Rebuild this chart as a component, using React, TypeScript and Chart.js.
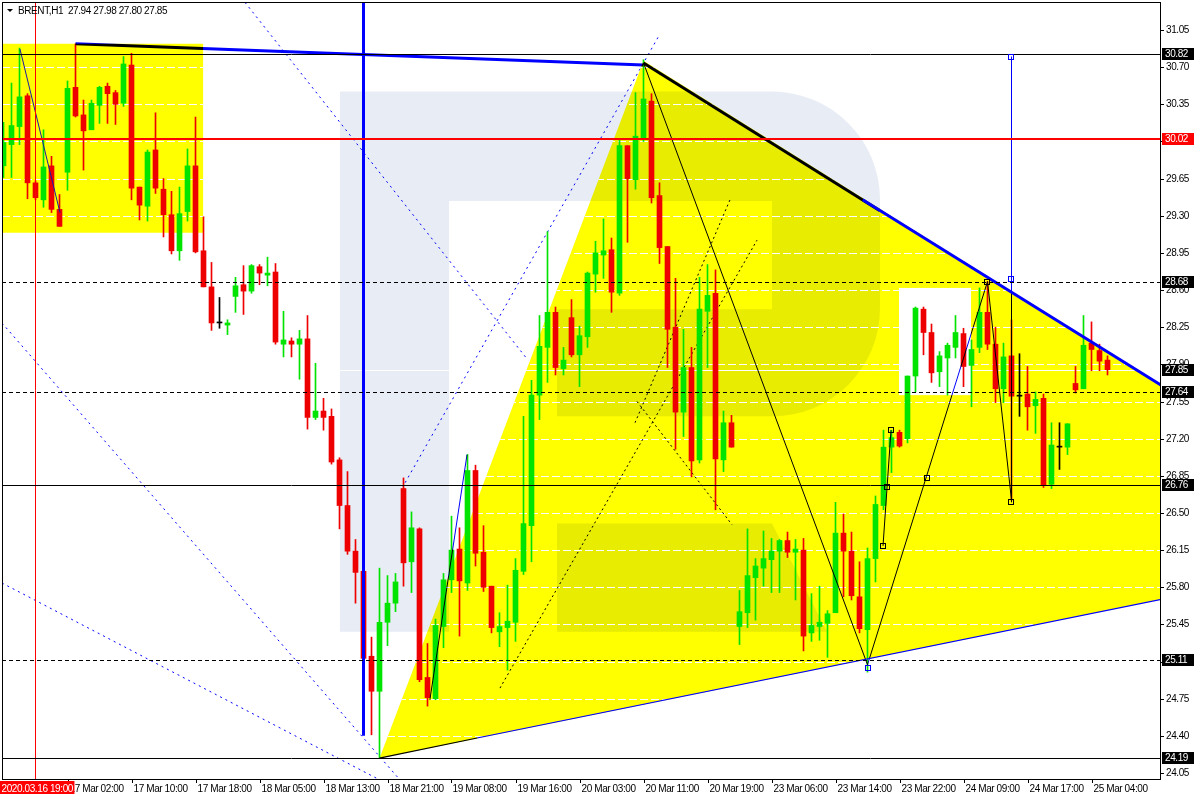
import React, { useEffect, useRef } from "react";
import { Chart, registerables } from "chart.js";

Chart.register(...registerables);

// ---------------- data ----------------
const titleText = "BRENT,H1  27.94 27.98 27.80 27.85";

const opens = [
  29.77, 29.97, 30.14, 30.43, 29.61, 29.45, 29.77, 29.36, 29.71, 30.51,
  30.25, 30.11, 30.34, 30.52, 30.46, 30.36, 30.72, 29.57, 29.39, 29.92,
  29.55, 29.31, 28.97, 29.34, 29.77, 28.97, 28.63, 28.29, 28.27, 28.54,
  28.65, 28.59, 28.82, 28.74, 28.77, 28.09, 28.12, 28.09, 28.14, 27.40,
  27.46, 27.41, 27.00, 26.57, 26.14, 25.95, 25.15, 24.82, 25.47, 25.65,
  26.73, 26.04, 26.35, 24.95, 24.75, 25.43, 25.87, 26.16, 25.84, 26.90,
  26.13, 25.81, 25.38, 25.42, 25.47, 25.95, 26.38, 27.61, 28.06, 28.39,
  27.86, 28.34, 27.99, 28.16, 28.75, 28.93, 28.98, 28.57, 29.96, 29.64,
  30.03, 30.38, 29.49, 29.01, 28.25, 27.45, 27.87, 27.00, 28.40, 28.57,
  27.00, 27.35, 25.43, 25.56, 25.89, 25.98, 26.06, 26.14, 26.24, 26.13,
  26.15, 25.37, 25.43, 25.46, 25.56, 26.31, 26.14, 25.71, 25.40, 26.07,
  26.57, 27.12, 27.26, 27.20, 27.79, 28.42, 28.20, 27.83, 27.96, 28.06,
  28.19, 27.89, 28.06, 28.39, 28.09, 27.67, 27.98, 27.60, 27.62, 27.51,
  27.58, 26.77, 27.12, 27.12, 27.72, 27.67, 28.10, 28.03, 27.94,
];
const highs = [
  30.18, 30.55, 30.88, 30.45, 29.63, 30.11, 29.86, 29.50, 30.57, 30.92,
  30.39, 30.39, 30.52, 30.55, 30.48, 30.80, 30.83, 29.57, 29.92, 30.27,
  29.65, 29.53, 29.57, 29.93, 30.23, 29.29, 28.86, 28.53, 28.32, 28.72,
  28.83, 28.84, 28.84, 28.91, 28.85, 28.40, 28.15, 28.22, 28.36, 27.91,
  27.58, 27.48, 27.02, 26.89, 26.25, 25.96, 25.33, 25.98, 25.91, 25.93,
  26.83, 26.51, 26.36, 25.27, 25.50, 25.93, 26.47, 26.36, 27.05, 26.95,
  26.38, 25.81, 25.56, 25.82, 26.07, 27.41, 27.75, 28.36, 29.15, 28.44,
  28.06, 28.51, 28.26, 28.77, 29.06, 29.27, 29.09, 30.01, 29.96, 30.46,
  30.77, 30.45, 29.61, 29.01, 28.71, 28.23, 28.06, 28.72, 28.84, 28.79,
  27.46, 27.42, 25.77, 26.35, 26.07, 26.33, 26.26, 26.25, 26.32, 26.25,
  26.26, 25.74, 25.81, 25.58, 26.60, 26.49, 26.32, 26.04, 26.17, 26.66,
  27.28, 27.28, 27.28, 27.79, 28.44, 28.44, 28.28, 28.02, 28.10, 28.36,
  28.24, 28.13, 28.62, 28.68, 28.25, 28.10, 28.32, 28.00, 27.88, 27.64,
  27.62, 27.35, 27.35, 27.34, 27.88, 28.36, 28.30, 28.09, 27.98,
];
const lows = [
  29.66, 29.66, 29.97, 29.46, 29.45, 29.38, 29.33, 29.20, 29.54, 30.23,
  29.73, 30.11, 30.17, 30.17, 30.16, 30.33, 29.45, 29.26, 29.25, 29.51,
  29.10, 28.94, 28.88, 29.25, 28.95, 28.63, 28.22, 28.24, 28.18, 28.39,
  28.37, 28.57, 28.65, 28.64, 28.09, 27.97, 27.97, 27.76, 27.29, 27.38,
  27.28, 26.96, 26.35, 26.11, 25.65, 24.91, 24.41, 24.19, 25.25, 25.57,
  25.81, 25.75, 24.91, 24.68, 24.74, 25.23, 25.75, 25.34, 25.77, 26.00,
  25.76, 25.37, 25.24, 25.02, 25.29, 25.92, 26.04, 27.38, 27.73, 27.80,
  27.80, 27.97, 27.69, 28.06, 28.58, 28.71, 28.39, 28.55, 29.05, 29.55,
  30.00, 29.42, 28.85, 27.87, 27.10, 27.22, 26.84, 26.97, 27.87, 26.53,
  26.89, 27.12, 25.26, 25.42, 25.49, 25.81, 25.75, 25.75, 26.08, 25.68,
  25.20, 25.29, 25.30, 25.14, 25.56, 25.71, 25.68, 25.37, 25.00, 25.85,
  26.53, 26.88, 27.12, 27.16, 27.64, 27.99, 27.73, 27.69, 27.61, 27.96,
  27.69, 27.50, 28.01, 28.04, 27.54, 27.54, 26.62, 27.41, 27.28, 27.25,
  26.74, 26.73, 26.91, 27.05, 27.63, 27.67, 27.84, 27.84, 27.80,
];
const closes = [
  29.99, 30.15, 30.42, 29.61, 29.47, 29.76, 29.36, 29.20, 30.50, 30.24,
  30.10, 30.36, 30.51, 30.45, 30.35, 30.73, 29.56, 29.40, 29.90, 29.56,
  29.31, 28.97, 29.32, 29.77, 28.96, 28.63, 28.29, 28.29, 28.29, 28.64,
  28.59, 28.83, 28.76, 28.76, 28.11, 28.13, 28.09, 28.14, 27.40, 27.46,
  27.40, 26.98, 26.57, 26.14, 25.94, 25.13, 24.82, 25.47, 25.65, 25.85,
  26.03, 26.36, 24.93, 24.76, 25.44, 25.87, 26.15, 25.86, 26.90, 26.12,
  25.80, 25.42, 25.43, 25.48, 25.96, 26.40, 27.61, 28.07, 28.39, 27.87,
  27.94, 27.99, 28.17, 28.76, 28.95, 28.97, 28.58, 29.96, 29.65, 30.05,
  30.40, 29.47, 29.00, 28.23, 27.45, 27.87, 26.99, 28.42, 28.55, 27.01,
  27.35, 27.12, 25.57, 25.91, 26.00, 26.07, 26.14, 26.24, 26.13, 26.16,
  25.34, 25.44, 25.47, 25.55, 26.31, 26.14, 25.72, 25.41, 26.07, 26.58,
  27.12, 27.21, 27.13, 27.79, 28.43, 28.20, 27.82, 27.98, 28.08, 28.20,
  27.88, 28.04, 28.39, 28.09, 27.67, 27.97, 27.60, 27.60, 27.50, 27.57,
  26.76, 27.14, 27.12, 27.34, 27.66, 28.08, 28.04, 27.93, 27.85,
];

const priceTicks = [
  31.05, 30.7, 30.35, 30.0, 29.65, 29.3, 28.95, 28.6, 28.25, 27.9, 27.55,
  27.2, 26.85, 26.5, 26.15, 25.8, 25.45, 25.1, 24.75, 24.4, 24.05,
];

const timeLabels = [
  "17 Mar 02:00", "17 Mar 10:00", "17 Mar 18:00", "18 Mar 05:00", "18 Mar 13:00",
  "18 Mar 21:00", "19 Mar 08:00", "19 Mar 16:00", "20 Mar 03:00", "20 Mar 11:00",
  "20 Mar 19:00", "23 Mar 06:00", "23 Mar 14:00", "23 Mar 22:00", "24 Mar 09:00",
  "24 Mar 17:00", "25 Mar 04:00",
];
const timeLabelBars = [8, 16, 24, 32, 40, 48, 56, 64, 72, 80, 88, 96, 104, 112, 120, 128, 136];
const markerTimeLabel = "2020.03.16 19:00";
const markerTimeBar = 4;

const levelPrices = [30.82, 30.02, 28.68, 27.64, 26.76, 25.11, 24.19];
const bidPrice = 27.85;

// analysis objects, as [bar index, price] pairs
const leftBox = [[-1, 30.92], [24.95, 29.14]];
const wedgeTriangle = [[47, 24.19], [80, 30.76], [145, 27.69], [145, 25.69]];
const whiteBox = [[111.94, 28.62], [120.94, 27.61]];
const blueDotLines = [
  [[30.19, 31.31], [65.56, 27.94]],
  [[81.81, 30.98], [49.94, 26.75]],
  [[-0.19, 28.29], [49.5, 23.99]],
  [[-0.19, 25.84], [46.9, 23.99]],
];
const blackDotLines = [
  [[62.06, 24.85], [94.19, 29.07]],
  [[78.94, 27.35], [90.81, 29.45]],
  [[79.19, 27.55], [91.06, 26.39]],
];
const topTrend = [[9, 30.92], [80, 30.72]];
const swingLines = [
  [[108, 25.07], [123, 28.68]],
  [[53.3, 24.74], [57.94, 27.05]],
  [[126, 30.8], [126, 26.6]],
];
const blackThinLines = [
  [[80, 30.74], [108, 25.07]],
  [[123, 28.68], [126, 26.62]],
  [[109.94, 26.19], [110.94, 27.28]],
];
const leftDownLine = [[2.06, 30.87], [7.06, 29.33]];
const lowerTrendDark = [[47, 24.19], [59.2, 24.38]];
const lowerTrendBlue = [[59.2, 24.38], [145, 25.69]];
const upperTrendDark = [[80, 30.74], [109.5, 29.35]];
const upperTrendBlue = [[107.4, 29.45], [145, 27.69]];
const thickVertical = [[45, 31.4], [45, 24.4]];
const redVerticalBar = 4;
const anchorSquares = [
  [108, 25.04], [109.94, 26.19], [110.44, 26.74], [110.94, 27.28],
  [115.44, 26.83], [122.94, 28.68], [125.94, 30.8], [125.94, 28.7], [125.94, 26.6],
];
const anchorSquareBlue = [true, false, false, false, false, false, true, true, false];

// watermark logo outline (bar index / price)
const logoCols = { left: 42.06, barRight: 55.69, legLeft: 69.19, holeRight: 96.06, right: 109.56, legSlant: 102.94 };
const logoRows = { top: 30.47, holeTop: 29.44, holeBottom: 28.42, bowlBottom: 27.41, legTop: 26.4, bottom: 25.38 };

// ---------------- styles ----------------
const GREEN = "#00e400";
const RED = "#ee0000";
const YELLOW = "#ffff00";
const FONT = '10px "Liberation Sans", Arial, sans-serif';
const X_MIN = -0.1875;
const X_MAX = 144.5625;
const Y_MIN = 23.9935;
const Y_MAX = 31.3138;

const levelLook = [
  { color: "#000000", width: 1, dash: [] as number[], box: "#000000" },
  { color: "#ff0000", width: 2, dash: [] as number[], box: "#ff0000" },
  { color: "#000000", width: 1, dash: [4, 3], box: "#000000" },
  { color: "#000000", width: 1, dash: [4, 3], box: "#000000" },
  { color: "#000000", width: 1, dash: [] as number[], box: "#000000" },
  { color: "#000000", width: 1, dash: [4, 3], box: "#000000" },
  { color: "#000000", width: 1, dash: [] as number[], box: "#000000" },
];

const candleColor = (i: number) =>
  closes[i] > opens[i] ? GREEN : closes[i] < opens[i] ? RED : "#000000";

function seg(ctx: any, X: any, Y: any, pts: number[][], color: string, width: number, dash: number[] = []) {
  ctx.save();
  ctx.strokeStyle = color;
  ctx.lineWidth = width;
  ctx.setLineDash(dash);
  ctx.beginPath();
  ctx.moveTo(X(pts[0][0]), Y(pts[0][1]));
  for (let k = 1; k < pts.length; k++) ctx.lineTo(X(pts[k][0]), Y(pts[k][1]));
  ctx.stroke();
  ctx.restore();
}

function yellowPath(ctx: any, X: any, Y: any) {
  ctx.beginPath();
  const x0 = X(leftBox[0][0]), x1 = X(leftBox[1][0]);
  const y0 = Y(leftBox[0][1]), y1 = Y(leftBox[1][1]);
  ctx.rect(x0, y0, x1 - x0, y1 - y0);
  ctx.moveTo(X(wedgeTriangle[0][0]), Y(wedgeTriangle[0][1]));
  for (let k = 1; k < wedgeTriangle.length; k++) ctx.lineTo(X(wedgeTriangle[k][0]), Y(wedgeTriangle[k][1]));
  ctx.closePath();
}

function logoPath(ctx: any, X: any, Y: any) {
  const L = X(logoCols.left), BR = X(logoCols.barRight), LL = X(logoCols.legLeft);
  const HR = X(logoCols.holeRight), R = X(logoCols.right), LS = X(logoCols.legSlant);
  const T = Y(logoRows.top), HT = Y(logoRows.holeTop), HB = Y(logoRows.holeBottom);
  const BB = Y(logoRows.bowlBottom), LT = Y(logoRows.legTop), B = Y(logoRows.bottom);
  const r = R - HR;
  ctx.beginPath();
  ctx.moveTo(L, T);
  ctx.lineTo(R - r, T);
  ctx.arcTo(R, T, R, T + r, r);
  ctx.lineTo(R, BB - r);
  ctx.arcTo(R, BB, R - r, BB, r);
  ctx.lineTo(LL, BB);
  ctx.lineTo(LL, HB);
  ctx.lineTo(HR, HB);
  ctx.lineTo(HR, HT);
  ctx.lineTo(BR, HT);
  ctx.lineTo(BR, B);
  ctx.lineTo(L, B);
  ctx.closePath();
  ctx.moveTo(LL, LT);
  ctx.lineTo(HR, LT);
  ctx.lineTo(LS, B);
  ctx.lineTo(LL, B);
  ctx.closePath();
}

const mt4Plugin = {
  id: "mt4Overlay",
  beforeDraw(chart: any) {
    const ctx = chart.ctx;
    ctx.save();
    ctx.fillStyle = "#ffffff";
    ctx.fillRect(0, 0, chart.width, chart.height);
    ctx.restore();
  },
  beforeDatasetsDraw(chart: any) {
    const { ctx, chartArea: a } = chart;
    const X = (v: number) => chart.scales.x.getPixelForValue(v);
    const Y = (v: number) => chart.scales.y.getPixelForValue(v);
    ctx.save();
    ctx.beginPath();
    ctx.rect(a.left, a.top, a.right - a.left, a.bottom - a.top);
    ctx.clip();

    for (const l of blueDotLines) seg(ctx, X, Y, l, "#0000ff", 1, [2, 4]);

    ctx.fillStyle = YELLOW;
    yellowPath(ctx, X, Y);
    ctx.fill();

    ctx.fillStyle = "#ffffff";
    const wx0 = X(whiteBox[0][0]), wx1 = X(whiteBox[1][0]);
    const wy0 = Y(whiteBox[0][1]), wy1 = Y(whiteBox[1][1]);
    ctx.fillRect(wx0, wy0, wx1 - wx0, wy1 - wy0);

    ctx.globalCompositeOperation = "multiply";
    ctx.fillStyle = "#e8ecf4";
    logoPath(ctx, X, Y);
    ctx.fill();
    ctx.globalCompositeOperation = "source-over";

    ctx.save();
    yellowPath(ctx, X, Y);
    ctx.clip();
    ctx.strokeStyle = "#ffffff";
    ctx.lineWidth = 1;
    ctx.setLineDash([8, 3]);
    for (const t of priceTicks) {
      const y = Math.round(Y(t)) + 0.5;
      ctx.beginPath();
      ctx.moveTo(a.left, y);
      ctx.lineTo(a.right, y);
      ctx.stroke();
    }
    ctx.restore();

    const by = Math.round(Y(bidPrice)) + 0.5;
    ctx.strokeStyle = "#ffffff";
    ctx.lineWidth = 1;
    ctx.setLineDash([]);
    ctx.beginPath();
    ctx.moveTo(a.left, by);
    ctx.lineTo(a.right, by);
    ctx.stroke();

    for (const l of blackDotLines) seg(ctx, X, Y, l, "#000000", 1, [2, 3]);
    ctx.restore();
  },
  afterDatasetsDraw(chart: any) {
    const { ctx, chartArea: a } = chart;
    const X = (v: number) => chart.scales.x.getPixelForValue(v);
    const Y = (v: number) => chart.scales.y.getPixelForValue(v);
    ctx.save();
    ctx.beginPath();
    ctx.rect(a.left, a.top, a.right - a.left, a.bottom - a.top);
    ctx.clip();

    // blue objects blended over the yellow background
    ctx.globalCompositeOperation = "multiply";
    seg(ctx, X, Y, topTrend, "#0000ff", 3);
    for (const l of swingLines) seg(ctx, X, Y, l, "#0000ff", 1);
    ctx.globalCompositeOperation = "source-over";

    for (const l of blackThinLines) seg(ctx, X, Y, l, "#000000", 1);
    seg(ctx, X, Y, leftDownLine, "#1c1ca0", 1);
    seg(ctx, X, Y, lowerTrendDark, "#000000", 1.2);
    seg(ctx, X, Y, lowerTrendBlue, "#0000ff", 1.2);
    seg(ctx, X, Y, upperTrendDark, "#000000", 3);
    seg(ctx, X, Y, upperTrendBlue, "#0000ff", 3);
    seg(ctx, X, Y, thickVertical, "#0000ff", 3);

    // red time line
    const rx = X(redVerticalBar);
    ctx.strokeStyle = "#ff0000";
    ctx.lineWidth = 1;
    ctx.setLineDash([]);
    ctx.beginPath();
    ctx.moveTo(rx, a.top);
    ctx.lineTo(rx, a.bottom);
    ctx.stroke();

    // horizontal levels
    levelPrices.forEach((p, k) => {
      const st = levelLook[k];
      const y = st.width % 2 === 1 ? Math.round(Y(p)) + 0.5 : Math.round(Y(p));
      ctx.strokeStyle = st.color;
      ctx.lineWidth = st.width;
      ctx.setLineDash(st.dash);
      ctx.beginPath();
      ctx.moveTo(a.left, y);
      ctx.lineTo(a.right, y);
      ctx.stroke();
    });
    ctx.setLineDash([]);

    // anchor squares
    anchorSquares.forEach((s, k) => {
      const x = Math.round(X(s[0]));
      const y = Math.round(Y(s[1]));
      ctx.strokeStyle = anchorSquareBlue[k] ? "#0000ff" : "#000000";
      ctx.lineWidth = 1;
      ctx.strokeRect(x - 2.5, y - 2.5, 5, 5);
    });
    ctx.restore();

    // frame
    ctx.save();
    ctx.strokeStyle = "#000000";
    ctx.lineWidth = 1;
    ctx.strokeRect(a.left + 0.5, a.top + 0.5, a.right - a.left, a.bottom - a.top);

    ctx.font = FONT;
    try { (ctx as any).letterSpacing = "-0.4px"; } catch (e) { /* ignore */ }
    ctx.fillStyle = "#000000";
    // price axis
    ctx.textAlign = "left";
    ctx.textBaseline = "middle";
    for (const t of priceTicks) {
      const y = Math.round(Y(t)) + 0.5;
      ctx.beginPath();
      ctx.moveTo(a.right, y);
      ctx.lineTo(a.right + 4, y);
      ctx.stroke();
      ctx.fillText(t.toFixed(2), a.right + 6, y);
    }
    // price boxes
    const boxes = levelPrices.map((p, k) => ({ p, c: levelLook[k].box }));
    boxes.push({ p: bidPrice, c: "#000000" });
    for (const b of boxes) {
      const y = Math.round(Y(b.p));
      ctx.fillStyle = b.c;
      ctx.fillRect(a.right + 2, y - 6, 32, 12);
      ctx.fillStyle = "#ffffff";
      ctx.fillText(b.p.toFixed(2), a.right + 5, y + 0.5);
    }

    // time axis
    ctx.fillStyle = "#000000";
    ctx.textBaseline = "alphabetic";
    timeLabels.forEach((lab, k) => {
      const x = Math.round(X(timeLabelBars[k])) + 0.5;
      ctx.beginPath();
      ctx.moveTo(x, a.bottom);
      ctx.lineTo(x, a.bottom + 4);
      ctx.stroke();
      ctx.fillText(lab, x + 1, a.bottom + 13);
    });
    const mw = ctx.measureText(markerTimeLabel).width;
    const mx = X(markerTimeBar);
    const boxL = Math.max(0, mx - mw / 2 - 2);
    ctx.fillStyle = "#ff0000";
    ctx.fillRect(boxL, a.bottom + 2, mw + 3, 13);
    ctx.fillStyle = "#ffffff";
    ctx.fillText(markerTimeLabel, boxL + 1.5, a.bottom + 13);

    // title
    ctx.fillStyle = "#000000";
    ctx.beginPath();
    ctx.moveTo(7, 9);
    ctx.lineTo(13, 9);
    ctx.lineTo(10, 12);
    ctx.closePath();
    ctx.fill();
    ctx.fillText(titleText, 18, 14);
    ctx.restore();
  },
};

export default function App() {
  const ref = useRef<HTMLCanvasElement>(null);
  useEffect(() => {
    const idx = opens.map((_, i) => i);
    const colors = idx.map(candleColor);
    const chart = new Chart(ref.current as HTMLCanvasElement, {
      type: "bar",
      data: {
        datasets: [
          {
            label: "shadow",
            data: idx.map((i) => ({ x: i, y: [lows[i], highs[i]] })) as any,
            backgroundColor: colors,
            barThickness: 1,
            grouped: false,
            order: 2,
          } as any,
          {
            label: "body",
            data: idx.map((i) => ({ x: i, y: [Math.min(opens[i], closes[i]), Math.max(opens[i], closes[i])] })) as any,
            backgroundColor: colors,
            barThickness: 5,
            minBarLength: 1,
            grouped: false,
            order: 1,
          } as any,
        ],
      },
      options: {
        animation: false,
        responsive: false,
        devicePixelRatio: 1,
        events: [],
        layout: { padding: { left: 2, top: 2, right: 40, bottom: 21 } },
        scales: {
          x: { type: "linear", min: X_MIN, max: X_MAX, display: false, offset: false, bounds: "data" } as any,
          y: { type: "linear", min: Y_MIN, max: Y_MAX, display: false, bounds: "data" } as any,
        },
        plugins: { legend: { display: false }, tooltip: { enabled: false } },
      },
      plugins: [mt4Plugin],
    });
    return () => chart.destroy();
  }, []);
  return (
    <div style={{ position: "fixed", left: 0, top: 0, width: 1200, height: 800, background: "#ffffff" }}>
      <canvas ref={ref} width={1200} height={800} style={{ display: "block", width: 1200, height: 800 }} />
    </div>
  );
}
